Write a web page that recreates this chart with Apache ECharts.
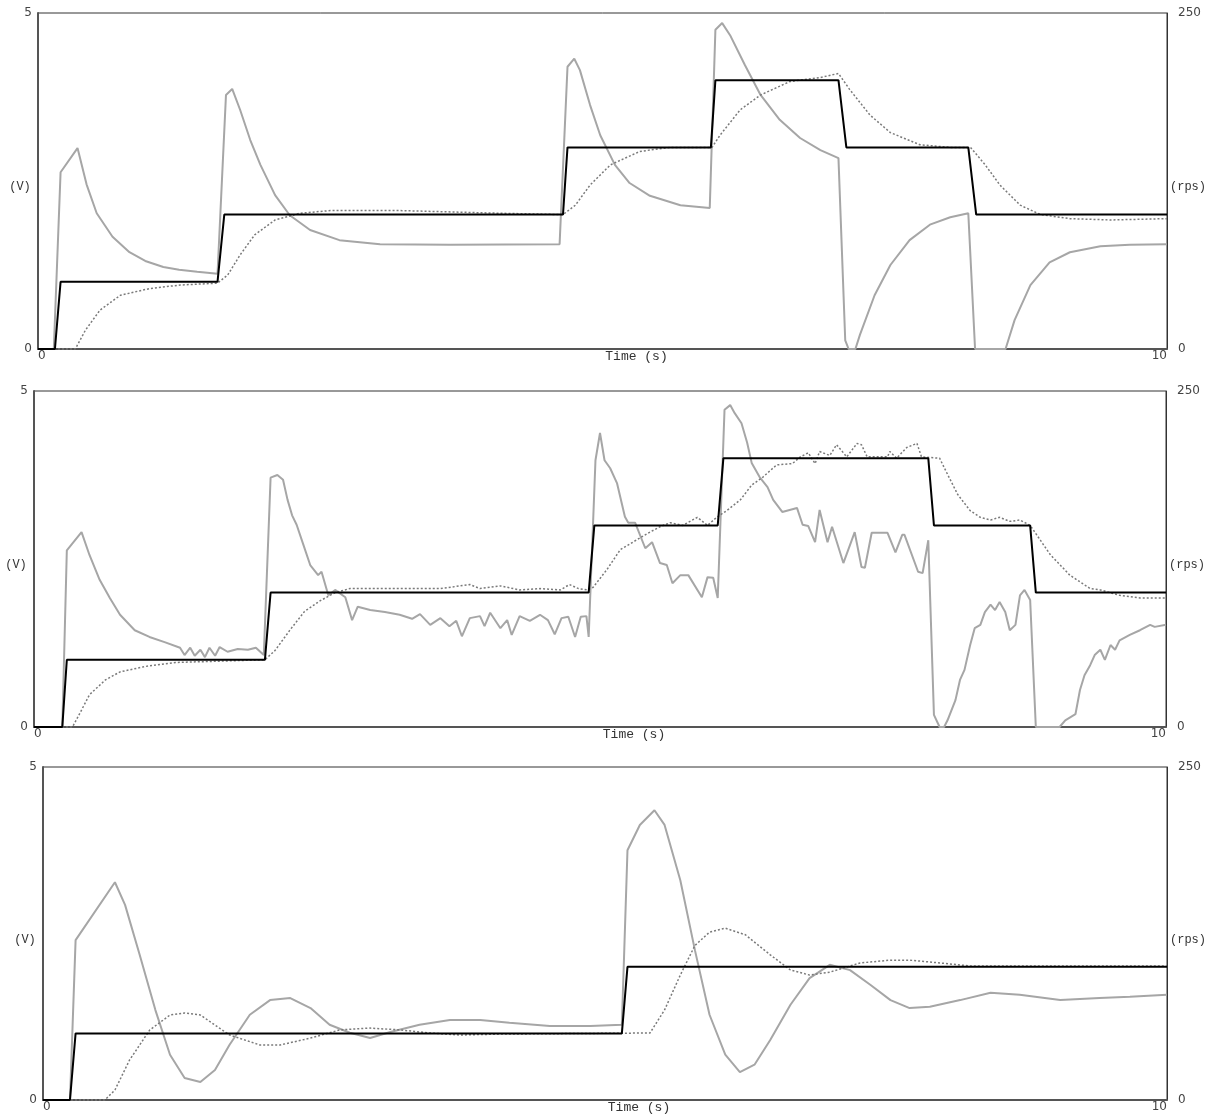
<!DOCTYPE html>
<html>
<head>
<meta charset="utf-8">
<script src="https://cdn.jsdelivr.net/npm/echarts@6/dist/echarts.min.js"></script>
<style>
html,body{margin:0;padding:0;background:#fff;}
#chart{width:1213px;height:1117px;}
</style>
</head>
<body>
<div id="chart"></div>
<script>
// ---- axis ranges / tick labels ----
var timeRange = [0, 10];
var voltRange = [0, 5];
var speedRange = [0, 250];
var xAxisName = 'Time (s)';
var leftAxisName = '(V)';
var rightAxisName = '(rps)';

// ---- Panel 1 : [time s, value] ----
var p1Setpoint = [[0,0],[0.15,0],[0.2,50],[1.59,50],[1.65,100],[4.65,100],[4.69,150],[5.96,150],[6.0,200],[7.09,200],[7.16,150],[8.24,150],[8.31,100],[10,100]];
var p1Voltage = [[0,0],[0.14,0],[0.2,2.63],[0.35,2.99],[0.43,2.45],[0.52,2.02],[0.66,1.67],[0.81,1.44],[0.95,1.31],[1.11,1.22],[1.25,1.18],[1.41,1.15],[1.59,1.12],
  [1.665,3.78],[1.72,3.87],[1.79,3.56],[1.88,3.11],[1.97,2.74],[2.10,2.29],[2.23,1.99],[2.41,1.77],[2.67,1.62],[3.03,1.56],[3.65,1.55],[4.62,1.56],
  [4.69,4.2],[4.75,4.32],[4.80,4.15],[4.89,3.63],[4.98,3.18],[5.11,2.74],[5.24,2.47],[5.42,2.28],[5.69,2.14],[5.95,2.10],
  [6.0,4.75],[6.06,4.85],[6.13,4.67],[6.26,4.23],[6.40,3.78],[6.57,3.41],[6.75,3.14],[6.93,2.96],[7.09,2.84],
  [7.15,0.13],[7.18,0],[7.24,0],[7.28,0.21],[7.41,0.80],[7.55,1.25],[7.72,1.62],[7.90,1.85],[8.08,1.96],[8.24,2.02],
  [8.30,0],[8.57,0],[8.65,0.43],[8.79,0.95],[8.96,1.29],[9.14,1.44],[9.41,1.53],[9.67,1.55],[10,1.56]];
var p1Speed = [[0,0],[0.33,0],[0.42,14],[0.55,29],[0.73,40],[0.99,45],[1.26,47.6],[1.59,49],[1.68,55],[1.79,70],[1.92,85],[2.10,96],[2.32,101],[2.59,103],[3.21,103],[4.09,101],[4.65,100],
  [4.76,107],[4.89,122],[5.07,137],[5.33,147],[5.60,150],[5.97,150],[6.04,159],[6.22,178],[6.40,189],[6.66,199],[6.93,202],[7.09,205],
  [7.19,193],[7.37,174],[7.55,161],[7.81,152],[8.08,150],[8.26,150],[8.39,137],[8.52,122],[8.70,107],[8.88,100],[9.14,97],[9.50,96],[10,97]];

// ---- Panel 2 ----
var p2Setpoint = [[0,0],[0.25,0],[0.29,50],[2.04,50],[2.09,100],[4.9,100],[4.95,150],[6.04,150],[6.09,200],[7.9,200],[7.95,150],[8.8,150],[8.85,100],[10,100]];
var p2Voltage = [[0,0],[0.25,0],[0.29,2.63],[0.42,2.90],[0.49,2.56],[0.58,2.19],[0.67,1.92],[0.76,1.67],[0.89,1.44],[1.02,1.34],[1.16,1.26],[1.29,1.18],[1.33,1.07],[1.38,1.18],[1.42,1.06],[1.47,1.15],[1.51,1.04],[1.55,1.18],[1.60,1.06],[1.64,1.19],[1.71,1.12],[1.80,1.16],[1.89,1.15],[1.96,1.18],[2.03,1.07],
  [2.09,3.71],[2.15,3.75],[2.20,3.68],[2.24,3.38],[2.28,3.15],[2.32,3.01],[2.38,2.71],[2.44,2.41],[2.51,2.26],[2.54,2.31],[2.60,1.96],[2.66,2.04],[2.75,1.93],[2.81,1.59],[2.86,1.79],[2.97,1.74],[3.10,1.71],[3.23,1.67],[3.34,1.61],[3.41,1.68],[3.50,1.52],[3.59,1.62],[3.67,1.50],[3.73,1.58],[3.78,1.35],[3.85,1.62],[3.94,1.65],[3.98,1.50],[4.03,1.70],[4.12,1.47],[4.18,1.59],[4.22,1.37],[4.29,1.65],[4.38,1.58],[4.47,1.67],[4.54,1.59],[4.60,1.38],[4.66,1.62],[4.72,1.64],[4.78,1.34],[4.83,1.64],[4.88,1.65],[4.90,1.34],
  [4.96,3.97],[5.0,4.375],[5.04,3.97],[5.09,3.85],[5.15,3.63],[5.22,3.13],[5.25,3.04],[5.31,3.04],[5.40,2.66],[5.46,2.75],[5.53,2.44],[5.59,2.41],[5.64,2.14],[5.71,2.26],[5.78,2.26],[5.90,1.93],[5.95,2.23],[6.00,2.22],[6.04,1.92],
  [6.10,4.72],[6.15,4.79],[6.19,4.67],[6.25,4.52],[6.30,4.23],[6.34,3.93],[6.41,3.72],[6.48,3.57],[6.53,3.38],[6.61,3.20],[6.74,3.26],[6.79,3.01],[6.84,2.99],[6.90,2.75],[6.94,3.23],[7.01,2.75],[7.05,2.98],[7.15,2.44],[7.25,2.90],[7.31,2.38],[7.34,2.37],[7.40,2.89],[7.54,2.89],[7.61,2.60],[7.67,2.86],[7.69,2.86],[7.81,2.31],[7.85,2.29],[7.90,2.78],
  [7.95,0.18],[8.00,0],[8.04,0],[8.07,0.10],[8.14,0.40],[8.18,0.70],[8.22,0.85],[8.27,1.22],[8.31,1.47],[8.36,1.52],[8.40,1.71],[8.45,1.82],[8.49,1.74],[8.53,1.86],[8.58,1.71],[8.62,1.44],[8.67,1.52],[8.71,1.96],[8.75,2.04],[8.80,1.89],
  [8.85,0],[9.06,0],[9.11,0.10],[9.20,0.19],[9.24,0.55],[9.28,0.77],[9.33,0.92],[9.37,1.07],[9.42,1.15],[9.46,1.00],[9.51,1.22],[9.55,1.15],[9.59,1.29],[9.68,1.37],[9.77,1.44],[9.86,1.52],[9.90,1.49],[10,1.52]];
var p2Speed = [[0,0],[0.34,0],[0.41,11],[0.49,24],[0.63,35],[0.76,41],[0.98,45],[1.25,48],[1.64,49],[2.04,50],[2.13,57],[2.26,72],[2.39,86],[2.53,94],[2.66,100],[2.79,103],[2.97,103],[3.23,103],[3.59,103],[3.85,106],[3.94,103],[4.12,105],[4.29,102],[4.47,103],[4.65,102],[4.73,106],[4.81,103],[4.89,102],
  [4.94,104],[5.06,117],[5.18,132],[5.28,137],[5.42,144],[5.53,149],[5.62,152],[5.73,150],[5.86,156],[5.95,150],[6.03,156],[6.12,161],[6.24,169],[6.34,180],[6.44,186],[6.56,195],[6.70,196],[6.77,201],[6.84,204],[6.90,196],[6.94,205],[7.03,202],[7.09,210],[7.18,201],[7.27,211],[7.31,210],[7.36,201],[7.54,201],[7.56,205],[7.62,200],[7.71,208],[7.80,211],[7.84,201],[8.00,200],
  [8.07,188],[8.16,173],[8.27,161],[8.36,156],[8.45,154],[8.53,156],[8.62,153],[8.71,154],[8.80,150],[8.89,139],[8.98,128],[9.06,121],[9.15,113],[9.24,108],[9.33,103],[9.42,102],[9.59,98],[9.77,96],[10,96]];

// ---- Panel 3 ----
var p3Setpoint = [[0,0],[0.24,0],[0.29,50],[5.15,50],[5.2,100],[10,100]];
var p3Voltage = [[0,0],[0.24,0],[0.29,2.40],[0.64,3.27],[0.73,2.93],[0.86,2.18],[1.0,1.35],[1.13,0.68],[1.26,0.33],[1.40,0.27],[1.53,0.45],[1.66,0.83],[1.84,1.28],[2.02,1.50],[2.20,1.53],[2.38,1.38],[2.55,1.13],[2.73,1.01],[2.91,0.93],[3.09,1.02],[3.35,1.13],[3.62,1.20],[3.89,1.20],[4.15,1.16],[4.51,1.11],[4.87,1.11],[5.15,1.13],
  [5.20,3.75],[5.31,4.13],[5.44,4.35],[5.53,4.13],[5.67,3.30],[5.80,2.25],[5.93,1.28],[6.07,0.68],[6.20,0.42],[6.33,0.53],[6.47,0.90],[6.65,1.43],[6.82,1.83],[7.00,2.03],[7.18,1.95],[7.36,1.73],[7.54,1.50],[7.71,1.38],[7.89,1.40],[8.16,1.50],[8.43,1.61],[8.69,1.58],[9.05,1.50],[9.40,1.53],[9.67,1.55],[10,1.58]];
var p3Speed = [[0,0],[0.55,0],[0.64,7.5],[0.77,30],[0.95,52.6],[1.13,63.8],[1.26,65.3],[1.40,63.8],[1.66,48.8],[1.93,41.3],[2.11,41.3],[2.38,46.5],[2.64,52.6],[2.91,54],[3.18,52.6],[3.44,50.3],[3.71,48.8],[4.07,49.5],[5.40,50.3],
  [5.53,67.6],[5.67,93.8],[5.80,116],[5.93,126],[6.07,129],[6.25,124],[6.47,109],[6.65,97.6],[6.82,93.8],[7.00,96],[7.27,102.9],[7.54,105],[7.71,105],[7.98,102.9],[8.25,100.6],[10,100.6]];

var panels = [
  {setpoint: p1Setpoint, voltage: p1Voltage, speed: p1Speed},
  {setpoint: p2Setpoint, voltage: p2Voltage, speed: p2Speed},
  {setpoint: p3Setpoint, voltage: p3Voltage, speed: p3Speed}
];
var grids = [
  {left: 38, right: 46, top: 13, height: 336},
  {left: 34, right: 47, top: 391, height: 336},
  {left: 43, right: 46, top: 767, height: 333}
];

var numFont = {fontFamily: 'DejaVu Sans', fontSize: 12, color: '#444'};
var monoFont = 'Liberation Mono';

var option = {animation: false, grid: [], xAxis: [], yAxis: [], series: []};
grids.forEach(function (g, i) {
  option.grid.push({left: g.left, right: g.right, top: g.top, height: g.height, show: true, borderColor: '#333', borderWidth: 1,
    containLabel: false, outerBoundsMode: 'none'});
  option.xAxis.push({
    type: 'value', gridIndex: i, min: timeRange[0], max: timeRange[1], interval: 10,
    axisLine: {show: true, onZero: false, lineStyle: {color: '#555', width: 2}},
    axisTick: {show: false}, splitLine: {show: false},
    axisLabel: Object.assign({margin: 1, alignMinLabel: 'left', alignMaxLabel: 'right'}, numFont),
    name: xAxisName, nameLocation: 'middle', nameGap: 1, nameMoveOverlap: false,
    nameTextStyle: {fontFamily: monoFont, fontSize: 13, color: '#333', padding: [0, 0, 0, 68]}
  });
  option.yAxis.push({
    type: 'value', gridIndex: i, position: 'left', min: voltRange[0], max: voltRange[1], interval: 5,
    axisLine: {show: true, onZero: false, lineStyle: {color: '#555', width: 2}},
    axisTick: {show: false}, splitLine: {show: false},
    axisLabel: Object.assign({margin: 6}, numFont),
    name: leftAxisName, nameLocation: 'middle', nameRotate: 0, nameGap: 18, nameMoveOverlap: false,
    nameTextStyle: {fontFamily: monoFont, fontSize: 12, color: '#333', align: 'center', verticalAlign: 'top'}
  });
  option.yAxis.push({
    type: 'value', gridIndex: i, position: 'right', min: speedRange[0], max: speedRange[1], interval: 250,
    axisLine: {show: true, onZero: false, lineStyle: {color: '#333', width: 1}},
    axisTick: {show: false}, splitLine: {show: false},
    axisLabel: Object.assign({margin: 11}, numFont),
    name: rightAxisName, nameLocation: 'middle', nameRotate: 0, nameGap: 21, nameMoveOverlap: false,
    nameTextStyle: {fontFamily: monoFont, fontSize: 12, color: '#333', align: 'center', verticalAlign: 'top'}
  });
  var p = panels[i];
  option.series.push({type: 'line', xAxisIndex: i, yAxisIndex: 2 * i, data: p.voltage, showSymbol: false, symbol: 'none',
    lineStyle: {color: '#a6a6a6', width: 2}, z: 2});
  option.series.push({type: 'line', xAxisIndex: i, yAxisIndex: 2 * i + 1, data: p.speed, showSymbol: false, symbol: 'none',
    lineStyle: {color: '#7a7a7a', width: 1.5, type: [2, 2]}, z: 3});
  option.series.push({type: 'line', xAxisIndex: i, yAxisIndex: 2 * i + 1, data: p.setpoint, showSymbol: false, symbol: 'none',
    lineStyle: {color: '#000', width: 2}, z: 4});
});

var chart = echarts.init(document.getElementById('chart'), null, {renderer: 'canvas'});
chart.setOption(option);
</script>
</body>
</html>
